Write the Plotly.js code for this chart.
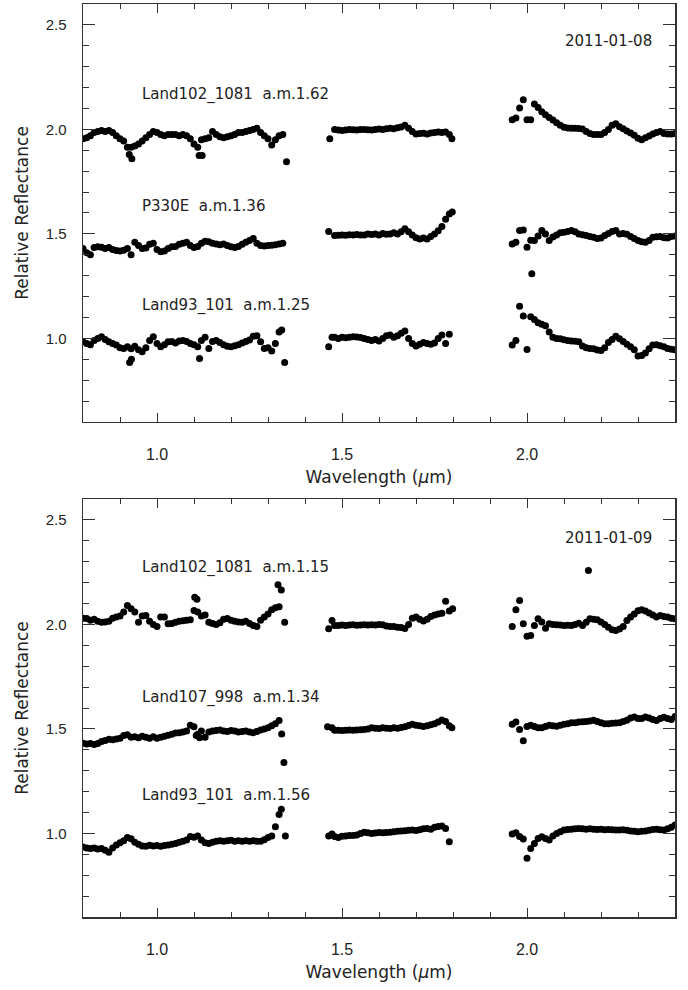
<!DOCTYPE html>
<html>
<head>
<meta charset="utf-8">
<script src="https://cdn.plot.ly/plotly-3.0.1.min.js"></script>
<style>html,body{margin:0;padding:0;background:#fff;}#chart{width:688px;height:990px;}</style>
</head>
<body>
<div id="chart"></div>
<script>
// Wavelength grids (µm) for the three spectral windows
const gridSeg1 = [0.80,0.81,0.82,0.83,0.84,0.85,0.86,0.87,0.88,0.89,0.90,0.91,0.92,0.93,0.94,0.95,0.96,0.97,0.98,0.99,1.00,1.01,1.02,1.03,1.04,1.05,1.06,1.07,1.08,1.09,1.10,1.11,1.12,1.13,1.14,1.15,1.16,1.17,1.18,1.19,1.20,1.21,1.22,1.23,1.24,1.25,1.26,1.27,1.28,1.29,1.30,1.31,1.32,1.33];
const gridSeg2 = [1.48,1.49,1.50,1.51,1.52,1.53,1.54,1.55,1.56,1.57,1.58,1.59,1.60,1.61,1.62,1.63,1.64,1.65,1.66,1.67,1.68,1.69,1.70,1.71,1.72,1.73,1.74,1.75,1.76,1.77,1.78,1.79];
const gridSeg3 = [1.96,1.97,1.98,1.99,2.00,2.01,2.02,2.03,2.04,2.05,2.06,2.07,2.08,2.09,2.10,2.11,2.12,2.13,2.14,2.15,2.16,2.17,2.18,2.19,2.20,2.21,2.22,2.23,2.24,2.25,2.26,2.27,2.28,2.29,2.30,2.31,2.32,2.33,2.34,2.35,2.36,2.37,2.38,2.39,2.40];

// ---- 2011-01-08 ----
const land102_0108_s1 = [1.955,1.96,1.97,1.985,1.99,1.995,1.99,1.995,1.985,1.97, 1.955,1.945,1.915,1.915,1.92,1.93,1.945,1.96,1.975,1.99, 1.985,1.975,1.97,1.975,1.975,1.975,1.97,1.975,1.97,1.955, 1.93,1.915,1.95,1.955,1.96,1.99,1.975,1.965,1.96,1.965, 1.97,1.975,1.985,1.985,1.99,1.995,2.0,2.005,1.985,1.97, 1.955,1.925,1.95,1.97];
const land102_0108_s2 = [2.0,1.997,1.995,1.997,2.0,1.998,1.997,2.0,2.0,1.998, 1.997,2.0,2.002,2.0,2.003,2.005,2.003,2.008,2.012,2.02, 2.005,1.99,1.978,1.98,1.982,1.978,1.983,1.985,1.987,1.985, 1.988,1.975];
const land102_0108_s3 = [2.046,2.054,2.102,2.142,2.046,2.046,2.121,2.105,2.085,2.07, 2.057,2.045,2.032,2.02,2.01,2.007,2.006,2.006,2.004,2.002, 1.99,1.98,1.976,1.975,1.975,1.985,2.0,2.02,2.027,2.013, 2.003,1.992,1.983,1.972,1.958,1.95,1.96,1.968,1.978,1.985, 1.99,1.98,1.978,1.978,1.98];
const land102_0108_exX = [0.925,0.932,1.114,1.122,1.34,1.35,1.467,1.797];
const land102_0108_exY = [1.88,1.86,1.875,1.875,1.975,1.845,1.955,1.955];

const p330e_0108_s1 = [1.43,1.41,1.40,1.435,1.438,1.436,1.43,1.435,1.425,1.42, 1.418,1.422,1.43,1.40,1.46,1.445,1.43,1.432,1.45,1.455, 1.425,1.415,1.418,1.43,1.438,1.44,1.45,1.455,1.46,1.445, 1.435,1.44,1.455,1.465,1.462,1.455,1.452,1.448,1.452,1.445, 1.438,1.435,1.44,1.45,1.46,1.468,1.478,1.455,1.445,1.442, 1.444,1.446,1.448,1.452];
const p330e_0108_s2 = [1.492,1.494,1.495,1.493,1.496,1.495,1.497,1.495,1.495,1.5, 1.497,1.5,1.495,1.502,1.498,1.5,1.505,1.5,1.51,1.525, 1.51,1.495,1.482,1.476,1.48,1.476,1.488,1.5,1.515,1.535, 1.57,1.595];
const p330e_0108_s3 = [1.452,1.46,1.516,1.519,1.436,1.47,1.468,1.49,1.516,1.5, 1.468,1.485,1.495,1.505,1.508,1.512,1.516,1.51,1.5,1.496, 1.492,1.487,1.484,1.478,1.48,1.492,1.502,1.512,1.516,1.5, 1.502,1.498,1.488,1.478,1.468,1.462,1.46,1.468,1.484,1.486, 1.487,1.482,1.48,1.488,1.49];
const p330e_0108_exX = [1.34,1.464,1.798,2.013];
const p330e_0108_exY = [1.455,1.511,1.605,1.309];

const land93_0108_s1 = [0.984,0.975,0.97,0.99,1.0,1.008,0.995,0.984,0.975,0.968, 0.955,0.952,0.96,0.95,0.962,0.945,0.936,0.955,0.99,1.008, 0.975,0.96,0.97,0.984,0.985,0.978,0.988,0.99,0.985,0.975, 0.97,0.96,0.99,1.005,0.952,0.985,0.99,0.98,0.97,0.962, 0.96,0.965,0.97,0.978,0.985,0.992,1.01,1.012,0.984,0.952, 0.955,0.94,0.975,1.03];
const land93_0108_s2 = [1.005,1.0,1.005,1.003,1.005,1.008,1.006,1.004,1.0,0.995, 0.99,0.995,0.987,1.0,1.012,1.016,1.005,1.012,1.025,1.035, 1.0,0.975,0.963,0.972,0.98,0.976,0.972,0.978,1.0,1.016, 0.976,1.02];
const land93_0108_s3 = [0.968,0.99,1.154,1.107,0.947,1.104,1.09,1.075,1.068,1.06, 1.03,1.005,1.0,0.998,0.993,0.99,0.988,0.986,0.984,0.963, 0.955,0.952,0.95,0.944,0.942,0.955,0.98,0.995,1.01,0.998, 0.985,0.972,0.96,0.945,0.916,0.918,0.93,0.95,0.968,0.97, 0.965,0.96,0.952,0.948,0.945];
const land93_0108_exX = [0.926,0.931,1.115,1.337,1.345,1.464,1.473];
const land93_0108_exY = [0.885,0.90,0.904,1.04,0.884,0.96,1.005];

// ---- 2011-01-09 ----
const land102_0109_s1 = [2.03,2.028,2.02,2.025,2.015,2.01,2.012,2.015,2.03,2.035, 2.04,2.06,2.09,2.075,2.06,2.01,2.04,2.043,2.015,2.0, 1.99,2.035,2.035,2.003,2.005,2.01,2.015,2.018,2.02,2.022, 2.067,2.06,2.04,2.045,2.01,2.005,2.0,2.008,2.025,2.028, 2.02,2.015,2.012,2.01,2.015,2.005,1.995,1.99,2.02,2.035, 2.05,2.07,2.08,2.085];
const land102_0109_s2 = [1.995,1.995,1.997,1.995,1.997,1.998,1.996,1.997,1.998,1.997, 1.998,1.997,2.0,1.998,1.992,1.99,1.99,1.987,1.985,1.98, 2.0,2.03,2.035,2.025,2.016,2.025,2.038,2.045,2.05,2.054, 2.111,2.064];
const land102_0109_s3 = [1.99,2.07,2.115,2.003,1.943,1.947,1.995,2.027,2.011,1.982, 2.003,2.0,1.998,1.997,1.995,1.996,1.995,2.0,2.006,1.995, 2.01,2.027,2.025,2.022,2.011,2.0,1.987,1.975,1.971,1.978, 1.99,2.019,2.035,2.05,2.065,2.07,2.064,2.055,2.045,2.035, 2.043,2.038,2.035,2.03,2.027];
const land102_0109_exX = [1.102,1.108,1.327,1.336,1.345,1.464,1.473,1.799,2.166];
const land102_0109_exY = [2.13,2.12,2.19,2.165,2.01,1.979,2.019,2.075,2.258];

const land107_0109_s1 = [1.432,1.428,1.43,1.425,1.43,1.44,1.445,1.45,1.448,1.452, 1.455,1.468,1.472,1.46,1.462,1.458,1.465,1.46,1.455,1.462, 1.455,1.46,1.465,1.47,1.475,1.48,1.482,1.485,1.49,1.518, 1.51,1.475,1.49,1.46,1.485,1.49,1.492,1.495,1.49,1.488, 1.492,1.49,1.485,1.488,1.49,1.485,1.482,1.488,1.495,1.5, 1.505,1.515,1.525,1.54];
const land107_0109_s2 = [1.494,1.494,1.493,1.494,1.495,1.494,1.495,1.496,1.497,1.5, 1.505,1.503,1.502,1.505,1.503,1.502,1.506,1.503,1.507,1.51, 1.516,1.522,1.518,1.515,1.512,1.515,1.52,1.525,1.533,1.543, 1.535,1.515];
const land107_0109_s3 = [1.522,1.533,1.497,1.443,1.512,1.517,1.512,1.506,1.506,1.512, 1.517,1.515,1.513,1.518,1.522,1.525,1.529,1.53,1.533,1.534, 1.535,1.538,1.541,1.535,1.53,1.525,1.525,1.527,1.528,1.53, 1.535,1.541,1.552,1.557,1.55,1.55,1.557,1.552,1.545,1.54, 1.55,1.556,1.55,1.545,1.56];
const land107_0109_exX = [1.106,1.115,1.337,1.343,1.461,1.473,1.797];
const land107_0109_exY = [1.468,1.458,1.476,1.339,1.51,1.506,1.506];

const land93_0109_s1 = [0.935,0.93,0.928,0.93,0.925,0.928,0.92,0.91,0.93,0.945, 0.955,0.965,0.98,0.975,0.958,0.948,0.94,0.938,0.943,0.94, 0.942,0.938,0.942,0.944,0.948,0.952,0.958,0.962,0.968,0.985, 0.982,0.987,0.968,0.955,0.952,0.958,0.962,0.965,0.962,0.965, 0.967,0.962,0.965,0.963,0.965,0.962,0.965,0.963,0.962,0.97, 0.98,0.987,1.032,1.09];
const land93_0109_s2 = [0.985,0.981,0.986,0.988,0.99,0.99,0.992,1.0,1.005,1.003, 1.0,1.002,1.004,1.003,1.004,1.006,1.008,1.01,1.012,1.013, 1.015,1.016,1.014,1.018,1.022,1.024,1.02,1.03,1.033,1.035, 1.024,0.96];
const land93_0109_s3 = [0.997,1.003,0.985,0.973,0.881,0.928,0.952,0.976,0.984,0.976, 0.968,0.987,1.0,1.008,1.016,1.019,1.02,1.022,1.023,1.022, 1.02,1.022,1.02,1.019,1.02,1.018,1.019,1.018,1.016,1.016, 1.017,1.015,1.012,1.01,1.008,1.01,1.012,1.015,1.019,1.02, 1.018,1.016,1.022,1.029,1.04];
const land93_0109_exX = [1.336,1.347,1.464,1.473];
const land93_0109_exY = [1.116,0.987,0.987,0.997];

// Labels
const labelsTop = ['Land102_1081\u00a0\u00a0a.m.1.62', 'P330E\u00a0\u00a0a.m.1.36', 'Land93_101\u00a0\u00a0a.m.1.25'];
const labelsBottom = ['Land102_1081\u00a0\u00a0a.m.1.15', 'Land107_998\u00a0\u00a0a.m.1.34', 'Land93_101\u00a0\u00a0a.m.1.56'];
const dates = ['2011-01-08', '2011-01-09'];
const xTitle = 'Wavelength (<i>\u03bc</i>m)';
const yTitle = 'Relative Reflectance';

function series(s1, s2, s3, exX, exY, xa, ya) {
  return {
    type: 'scatter', mode: 'markers', xaxis: xa, yaxis: ya,
    x: gridSeg1.concat(gridSeg2, gridSeg3, exX),
    y: s1.concat(s2, s3, exY),
    marker: {color: '#000', size: 7, line: {width: 0}},
    hoverinfo: 'x+y'
  };
}

const traces = [
  series(land102_0108_s1, land102_0108_s2, land102_0108_s3, land102_0108_exX, land102_0108_exY, 'x', 'y'),
  series(p330e_0108_s1, p330e_0108_s2, p330e_0108_s3, p330e_0108_exX, p330e_0108_exY, 'x', 'y'),
  series(land93_0108_s1, land93_0108_s2, land93_0108_s3, land93_0108_exX, land93_0108_exY, 'x', 'y'),
  series(land102_0109_s1, land102_0109_s2, land102_0109_s3, land102_0109_exX, land102_0109_exY, 'x2', 'y2'),
  series(land107_0109_s1, land107_0109_s2, land107_0109_s3, land107_0109_exX, land107_0109_exY, 'x2', 'y2'),
  series(land93_0109_s1, land93_0109_s2, land93_0109_s3, land93_0109_exX, land93_0109_exY, 'x2', 'y2')
];

const FONT = 'DejaVu Sans, Liberation Sans, Arial, sans-serif';
const TICKFONT = 'Liberation Sans, Arial, sans-serif';
const AX = '#333';

function xAxis(anchor) {
  return {
    anchor: anchor, domain: [0, 1], range: [0.8, 2.4],
    showline: true, linecolor: AX, linewidth: 1.5, mirror: 'ticks',
    ticks: 'inside', ticklen: 9, tickwidth: 1, tickcolor: AX,
    dtick: 0.5, tick0: 0, tickformat: '.1f',
    minor: {dtick: 0.1, tick0: 0, ticks: 'inside', ticklen: 5, tickwidth: 1, tickcolor: AX, showgrid: false},
    showgrid: false, zeroline: false,
    ticklabelstandoff: 17,
    tickfont: {family: TICKFONT, size: 16, color: '#222'},
    title: {text: xTitle, font: {family: FONT, size: 17, color: '#222'}, standoff: 9},
    automargin: false
  };
}
function yAxis(anchor, domain) {
  return {
    anchor: anchor, domain: domain, range: [0.6, 2.6],
    showline: true, linecolor: AX, linewidth: 1.5, mirror: 'ticks',
    ticks: 'inside', ticklen: 12, tickwidth: 1, tickcolor: AX,
    dtick: 0.5, tick0: 0, tickformat: '.1f',
    minor: {dtick: 0.1, tick0: 0, ticks: 'inside', ticklen: 6, tickwidth: 1, tickcolor: AX, showgrid: false},
    showgrid: false, zeroline: false,
    ticklabelstandoff: 12,
    tickfont: {family: TICKFONT, size: 15, color: '#222'},
    title: {text: yTitle, font: {family: FONT, size: 17, color: '#222'}, standoff: 12},
    automargin: false
  };
}

function ann(text, x, y, xref, yref, anchor) {
  return {text: text, x: x, y: y, xref: xref, yref: yref, xanchor: anchor, yanchor: 'middle',
          showarrow: false, font: {family: FONT, size: 15, color: '#222'}};
}

const layout = {
  width: 688, height: 990,
  margin: {l: 83, r: 13, t: 4, b: 73},
  paper_bgcolor: '#fff', plot_bgcolor: '#fff',
  showlegend: false,
  font: {family: FONT, color: '#222'},
  xaxis: xAxis('y'),
  yaxis: yAxis('x', [0.5422, 1]),
  xaxis2: xAxis('y2'),
  yaxis2: yAxis('x2', [0, 0.4578]),
  annotations: [
    ann(labelsTop[0], 0.954, 2.166, 'x', 'y', 'left'),
    ann(labelsTop[1], 0.954, 1.633, 'x', 'y', 'left'),
    ann(labelsTop[2], 0.954, 1.156, 'x', 'y', 'left'),
    ann(dates[0], 2.343, 2.425, 'x', 'y', 'right'),
    ann(labelsBottom[0], 0.954, 2.272, 'x2', 'y2', 'left'),
    ann(labelsBottom[1], 0.954, 1.651, 'x2', 'y2', 'left'),
    ann(labelsBottom[2], 0.954, 1.183, 'x2', 'y2', 'left'),
    ann(dates[1], 2.343, 2.414, 'x2', 'y2', 'right')
  ]
};

Plotly.newPlot('chart', traces, layout, {displayModeBar: false, staticPlot: true});
</script>
</body>
</html>
